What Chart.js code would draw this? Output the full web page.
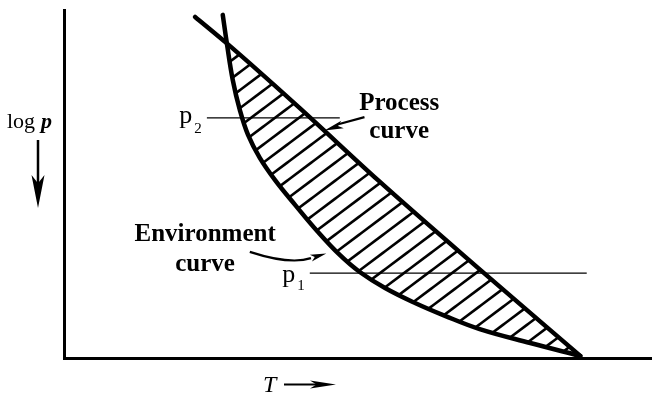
<!DOCTYPE html>
<html>
<head>
<meta charset="utf-8">
<script src="https://cdn.jsdelivr.net/npm/chart.js@4"></script>
<style>
  html, body { margin: 0; padding: 0; background: #fff; }
  #wrap { width: 652px; height: 394px; }
</style>
</head>
<body>
<div id="wrap"><canvas id="lapseChart" width="652" height="394"></canvas></div>
<script>
// Environment (sounding) curve: temperature vs log p, p grows downward
const envT    = [27.0, 27.7, 28.7, 29.9, 31.3, 33.3, 35.9, 39.3, 43.2, 46.9, 50.3, 54.6, 59.7, 64.8, 70.7, 79.3, 87.8];
const envLogP = [ 1.4,  9.6, 20.1, 28.7, 35.9, 42.5, 48.9, 56.0, 63.8, 70.4, 75.3, 79.9, 84.2, 87.9, 91.7, 95.7, 99.4];

// Process curve (lifted parcel)
const procT    = [22.3, 27.7, 40.1, 53.4, 70.4, 87.8];
const procLogP = [ 2.0,  9.6, 28.2, 48.9, 74.1, 99.4];

// pressure levels p2 (upper) and p1 (lower)
const p2T = [24.3, 46.9];
const p2Level = 31.0;
const p1T = [41.8, 88.9];
const p1Level = 75.6;

const pts = (xs, ys) => xs.map((v, i) => ({ x: v, y: Array.isArray(ys) ? ys[i] : ys }));

// diagonal hatching for the area between the two curves
function hatchPattern() {
  const w = 24, h = 18;
  const c = document.createElement('canvas');
  c.width = w; c.height = h;
  const g = c.getContext('2d');
  g.strokeStyle = '#000';
  g.lineWidth = 2.6;
  // lines run past the tile edges so the repeat has no seams
  [-1, 0, 1].forEach(k => {
    g.beginPath();
    g.moveTo(-w, 2 * h + k * h);
    g.lineTo(2 * w, -h + k * h);
    g.stroke();
  });
  return g.createPattern(c, 'repeat');
}

function arrowHead(ctx, tx, ty, ang, len, half) {
  ctx.save();
  ctx.translate(tx, ty);
  ctx.rotate(ang);
  ctx.beginPath();
  ctx.moveTo(0, 0);
  ctx.lineTo(-len, -half);
  ctx.lineTo(-len * 0.75, 0);
  ctx.lineTo(-len, half);
  ctx.closePath();
  ctx.fill();
  ctx.restore();
}

const serif = "'Liberation Serif', 'Times New Roman', serif";

const labels = {
  id: 'labels',
  afterDraw(chart) {
    const { ctx, scales: { x, y } } = chart;
    const P = (t, p) => [x.getPixelForValue(t), y.getPixelForValue(p)];
    ctx.save();
    ctx.fillStyle = '#000';
    ctx.strokeStyle = '#000';
    ctx.textBaseline = 'alphabetic';

    // axis labels
    ctx.font = '22px ' + serif;
    ctx.textAlign = 'left';
    ctx.fillText('log', 7, 128);
    ctx.font = 'italic bold 22px ' + serif;
    ctx.fillText('p', 41, 128);
    ctx.lineWidth = 2.5;
    ctx.beginPath(); ctx.moveTo(38, 140); ctx.lineTo(38, 185); ctx.stroke();
    arrowHead(ctx, 38, 208, Math.PI / 2, 33, 6.5);

    ctx.font = 'italic 24px ' + serif;
    ctx.fillText('T', 263, 392);
    ctx.lineWidth = 2.2;
    ctx.beginPath(); ctx.moveTo(284, 384.5); ctx.lineTo(318, 384.5); ctx.stroke();
    arrowHead(ctx, 336, 384.5, 0, 26, 4);

    // curve names
    ctx.font = 'bold 25px ' + serif;
    ctx.textAlign = 'center';
    let [lx, ly] = P(57.0, 28.8);
    ctx.fillText('Process', lx, ly);
    [lx, ly] = P(57.0, 36.9);
    ctx.fillText('curve', lx, ly);
    [lx, ly] = P(24.0, 66.3);
    ctx.fillText('Environment', lx, ly);
    [lx, ly] = P(24.0, 74.9);
    ctx.fillText('curve', lx, ly);

    // pointer to process curve
    ctx.lineWidth = 2.2;
    let [ax, ay] = P(51.1, 30.8);
    let [bx, by] = P(46.5, 32.9);
    ctx.beginPath(); ctx.moveTo(ax, ay); ctx.lineTo(bx, by); ctx.stroke();
    let [tx, ty] = P(44.3, 34.6);
    arrowHead(ctx, tx, ty, Math.atan2(ty - ay, tx - ax), 19, 4);

    // pointer to environment curve
    [ax, ay] = P(31.6, 69.5);
    const [cx, cy] = P(38.5, 73.3);
    [bx, by] = P(42.0, 71.3);
    ctx.beginPath(); ctx.moveTo(ax, ay); ctx.quadraticCurveTo(cx, cy, bx, by); ctx.stroke();
    [tx, ty] = P(44.6, 70.0);
    arrowHead(ctx, tx, ty, Math.atan2(ty - by, tx - bx), 16, 3.5);

    // level labels
    ctx.textAlign = 'left';
    ctx.font = '26px ' + serif;
    [lx, ly] = P(19.6, 32.6);
    ctx.fillText('p', lx, ly);
    ctx.font = '15px ' + serif;
    ctx.fillText('2', lx + 15, ly + 10);
    ctx.font = '26px ' + serif;
    [lx, ly] = P(37.1, 78.3);
    ctx.fillText('p', lx, ly);
    ctx.font = '15px ' + serif;
    ctx.fillText('1', lx + 15, ly + 8);
    ctx.restore();
  }
};

const curve = {
  borderColor: '#000',
  borderWidth: 4.5,
  borderCapStyle: 'round',
  borderJoinStyle: 'round',
  pointRadius: 0,
  showLine: true,
  fill: false
};
const level = { borderColor: '#000', borderWidth: 1.3, pointRadius: 0, showLine: true, fill: false };

new Chart(document.getElementById('lapseChart'), {
  type: 'scatter',
  data: {
    datasets: [
      Object.assign({ label: 'Environment curve', data: pts(envT, envLogP), tension: 0.4 }, curve),
      Object.assign({ label: 'Process curve', data: pts(procT, procLogP), cubicInterpolationMode: 'monotone' }, curve),
      Object.assign({ label: 'p2', data: pts(p2T, p2Level) }, level),
      Object.assign({ label: 'p1', data: pts(p1T, p1Level) }, level),
      {
        label: 'area',
        data: pts(procT.slice(1), procLogP.slice(1)),
        showLine: true,
        borderWidth: 0,
        pointRadius: 0,
        cubicInterpolationMode: 'monotone',
        backgroundColor: hatchPattern(),
        fill: 0
      }
    ]
  },
  options: {
    responsive: false,
    animation: false,
    events: [],
    layout: { padding: { left: 64, top: 10, right: 0, bottom: 36 } },
    plugins: { legend: { display: false }, tooltip: { enabled: false } },
    scales: {
      x: {
        type: 'linear', min: 0, max: 100,
        grid: { display: false, drawTicks: false },
        ticks: { display: false },
        border: { display: true, color: '#000', width: 3 }
      },
      y: {
        type: 'linear', min: 0, max: 100, reverse: true,
        grid: { display: false, drawTicks: false },
        ticks: { display: false },
        border: { display: true, color: '#000', width: 3 }
      }
    }
  },
  plugins: [labels]
});
</script>
</body>
</html>
